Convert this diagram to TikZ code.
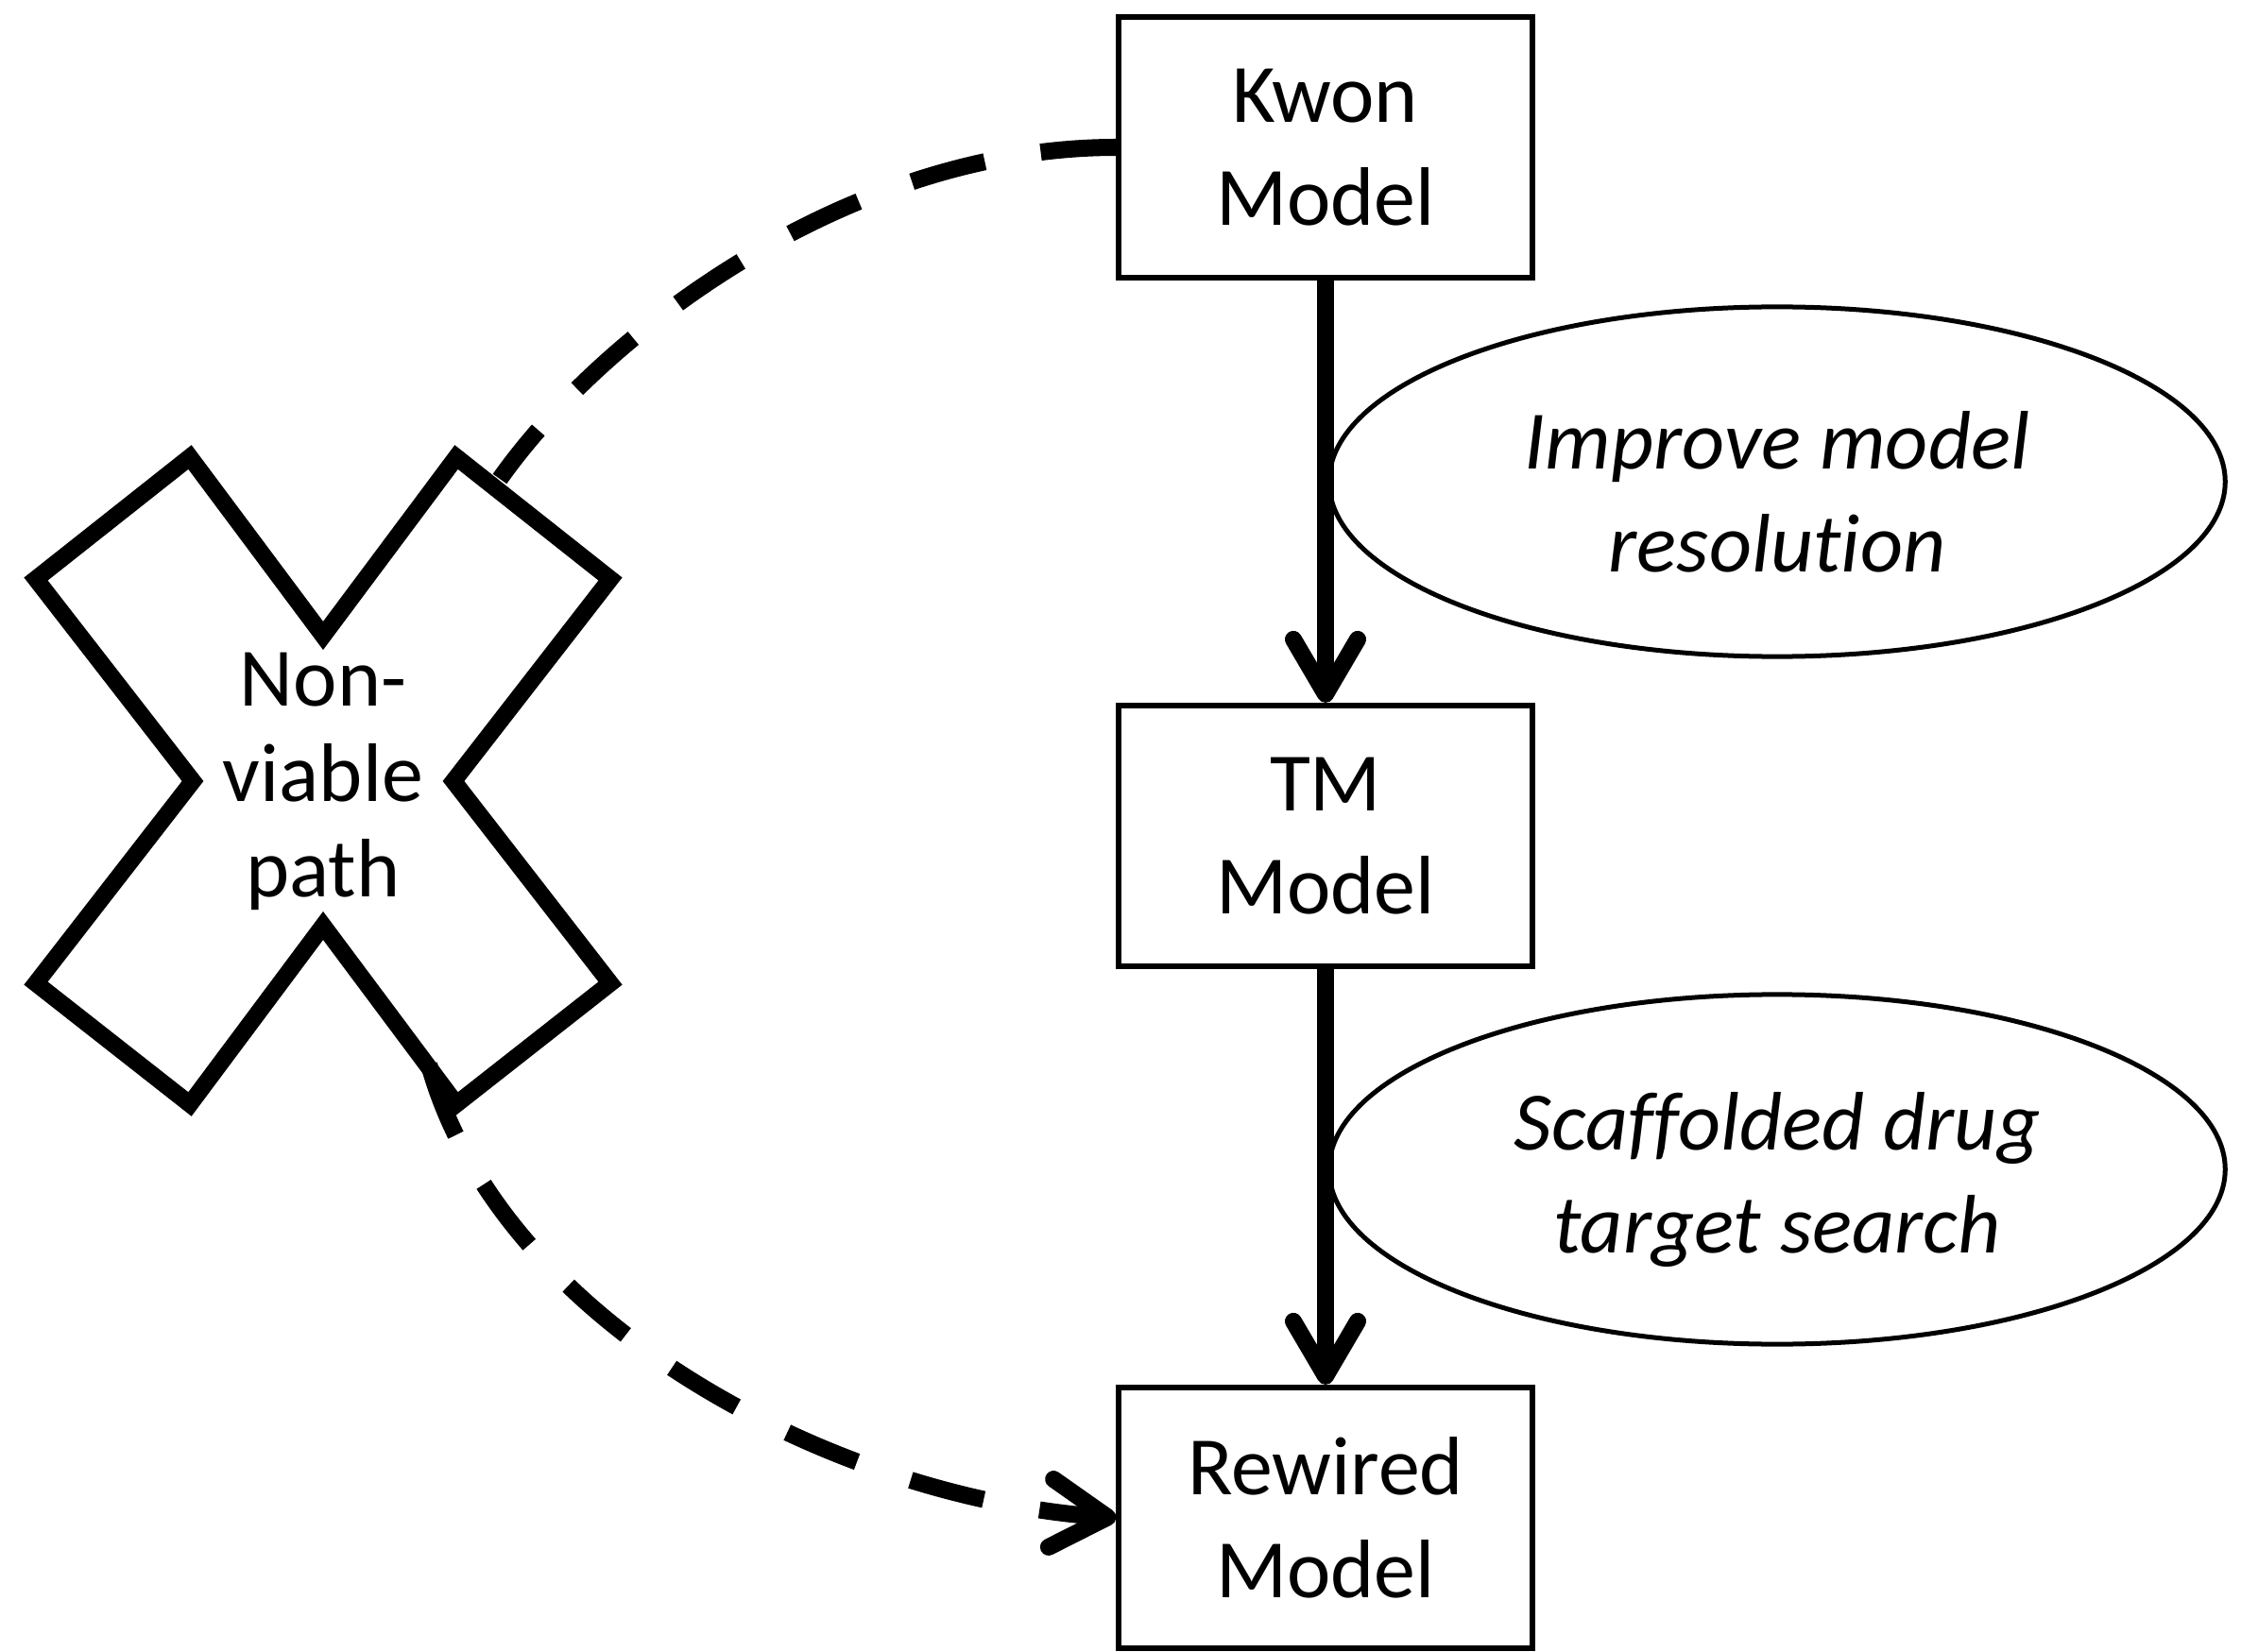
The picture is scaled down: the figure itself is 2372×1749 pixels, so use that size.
\documentclass[tikz,border=0pt]{standalone}
\usepackage{fontspec}
\setmainfont{Carlito}[Ligatures=CommonOff]
\usetikzlibrary{arrows.meta,shapes.geometric}
\begin{document}
\begin{tikzpicture}[x=0.01cm,y=-0.01cm,
  modelbox/.style={draw,line width=0.06cm,minimum width=4.37cm,minimum height=2.76cm,
    inner sep=0pt,align=center,font=\fontsize{25}{31}\selectfont},
  stepnote/.style={draw,ellipse,line width=0.05cm,minimum width=9.48cm,minimum height=3.70cm,
    inner sep=0pt},
  notetext/.style={inner sep=0pt,align=center,font=\fontsize{25}{31}\selectfont\itshape},
  flow/.style={line width=0.18cm,-{Straight Barb[length=0.58cm,width=0.68cm,round]}},
  deadend/.style={line width=0.18cm,dash pattern=on 0.8cm off 0.6cm},
  crossmark/.style={line width=0.18cm,line join=miter}]
\useasboundingbox (0,0) rectangle (2372,1749);

% model boxes
\node[modelbox] (kwon) at (1403,156) {Kwon\\Model};
\node[modelbox] (tm) at (1403,885) {TM\\Model};
\node[modelbox] (rewired) at (1403,1607) {Rewired\\Model};

% step descriptions
\node[stepnote] (improve) at (1881,510) {};
\node[notetext] (improvetext) at (1881,521) {Improve model\\resolution};
\node[stepnote] (scaffold) at (1881,1238) {};
\node[notetext] (scaffoldtext) at (1881,1249) {Scaffolded drug\\target search};

% main flow
\draw[flow] (kwon.south) -- (tm.north);
\draw[flow] (tm.south) -- (rewired.north);

% cross marking the abandoned route
\draw[crossmark] (201,484) -- (342,673) -- (483,484) -- (646,613) -- (480,827)
  -- (646,1041) -- (483,1169) -- (342,980) -- (201,1169) -- (38,1041)
  -- (204,827) -- (38,613) -- cycle;
\node[align=center,font=\fontsize{25}{28.7}\selectfont] (nonviable) at (342,827) {Non-\\viable\\path};
\coordinate (xin) at (529,507);
\coordinate (xout) at (454,1127);

% dashed detour through the cross
\draw[deadend] (kwon.west) .. controls (900,156) and (640,350) .. (xin);
\draw[deadend,-{Straight Barb[length=0.6cm,width=0.72cm,round]}]
  (xout) .. controls (530,1400) and (880,1585) .. (rewired.west);
\end{tikzpicture}
\end{document}
